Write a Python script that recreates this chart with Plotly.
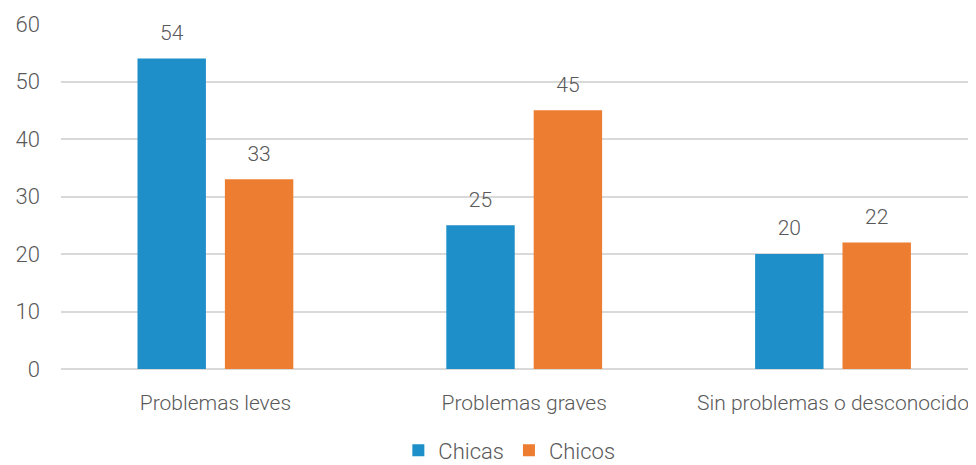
import plotly.graph_objects as go

categories = ["Problemas leves", "Problemas graves", "Sin problemas o desconocido"]
chicas = [54, 25, 20]
chicos = [33, 45, 22]
series_names = ["Chicas", "Chicos"]
y_ticks = [0, 10, 20, 30, 40, 50, 60]

BLUE = "#1E8FC9"
ORANGE = "#ED7D31"
TXT = "#595959"
FONT = "Roboto"

fig = go.Figure()
for name, vals, col in [(series_names[0], chicas, BLUE), (series_names[1], chicos, ORANGE)]:
    fig.add_trace(go.Bar(
        x=categories, y=vals, name=name, offsetgroup=name,
        marker=dict(color=col, line=dict(width=0)),
    ))
for name, vals in [(series_names[0], chicas), (series_names[1], chicos)]:
    fig.add_trace(go.Scatter(
        x=categories, y=vals, mode="markers+text", offsetgroup=name,
        text=[str(v) for v in vals], textposition="top center",
        marker=dict(size=20, color="rgba(0,0,0,0)"), cliponaxis=False,
        textfont=dict(family=FONT, size=21, color=TXT, weight=300),
        showlegend=False, hoverinfo="skip",
    ))

fig.update_layout(
    width=976, height=465,
    margin=dict(l=53, r=8, t=16, b=104, autoexpand=False),
    paper_bgcolor="white", plot_bgcolor="white",
    barmode="group", bargap=0.434, bargroupgap=0.217,
    scattermode="group", scattergap=0.434,
    font=dict(family=FONT, color=TXT, size=20, weight=300),
    legend=dict(orientation="h", x=0.49, xanchor="center", y=-0.175, yanchor="top",
                font=dict(family=FONT, size=22, color=TXT, weight=300), itemwidth=30,
                traceorder="normal"),
    showlegend=True,
)
fig.update_xaxes(type="category", range=[-0.5, 2.463], showgrid=False, showline=False,
                 automargin=False,
                 ticks="", tickfont=dict(family=FONT, size=21, color=TXT, weight=300),
                 ticklabelstandoff=19)
fig.update_yaxes(range=[0, 60], tickvals=y_ticks, showgrid=True, gridcolor="#D9D9D9",
                 gridwidth=1.5, zeroline=True, zerolinecolor="#D9D9D9", zerolinewidth=1.5,
                 automargin=False,
                 showline=False, ticks="", tickfont=dict(family=FONT, size=22, color=TXT, weight=300),
                 ticklabelstandoff=20)

fig.write_html("out.html")
